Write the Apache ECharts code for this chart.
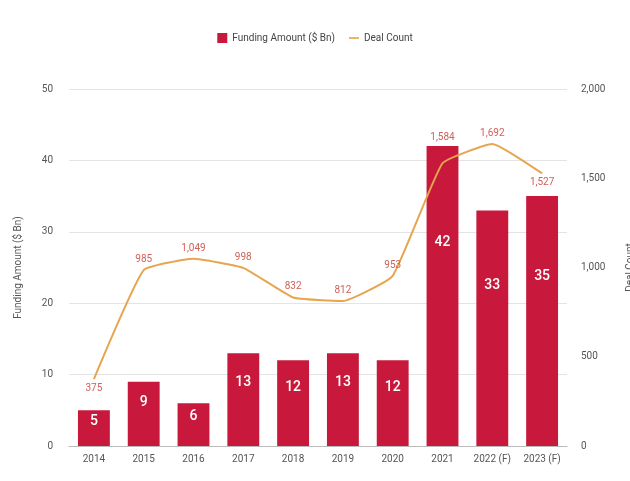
<!DOCTYPE html>
<html>
<head>
<meta charset="utf-8">
<script src="https://cdn.jsdelivr.net/npm/echarts@6/dist/echarts.min.js"></script>
<style>
  html, body { margin: 0; padding: 0; background: #fff; }
  #chart { width: 630px; height: 481px; }
</style>
</head>
<body>
<div id="chart"></div>
<script>
// Funding amount ($ Bn) and deal count by year; 2022 and 2023 are forecasts
const years = ['2014', '2015', '2016', '2017', '2018', '2019', '2020', '2021', '2022 (F)', '2023 (F)'];
const fundingAmount = [5, 9, 6, 13, 12, 13, 12, 42, 33, 35];
const dealCount = [375, 985, 1049, 998, 832, 812, 953, 1584, 1692, 1527];
const fundingTicks = [0, 10, 20, 30, 40, 50];
const dealTicks = [0, 500, 1000, 1500, 2000];

const BAR = '#c8193c';
const LINE = '#e6a54f';
const TEXT = '#555';
const FONT = 'Roboto, "Noto Sans", sans-serif';

const fmt = v => Number(v).toLocaleString('en-US');

// deal labels sit under the point at the two ends, above elsewhere
const dealData = dealCount.map((v, i) => {
  const below = i === 0 || i === dealCount.length - 1;
  const lifted = i === 7;
  return {
    value: v,
    label: { position: below ? 'bottom' : 'top', distance: lifted ? 20 : (below ? 4 : 5) }
  };
});

const chart = echarts.init(document.getElementById('chart'), null, { renderer: 'canvas' });
chart.setOption({
  animation: false,
  textStyle: { fontFamily: FONT },
  legend: {
    top: 28,
    left: 'center',
    itemGap: 14,
    itemWidth: 10,
    itemHeight: 10,
    textStyle: { color: '#444', fontSize: 10, fontFamily: FONT },
    data: [
      { name: 'Funding Amount ($ Bn)', icon: 'rect' },
      { name: 'Deal Count', icon: 'path://M0,4 L12,4 L12,6 L0,6 Z', itemStyle: { color: LINE, opacity: 1 } }
    ]
  },
  grid: { left: 69, right: 63, top: 89, bottom: 35, outerBoundsMode: 'none' },
  xAxis: {
    type: 'category',
    data: years,
    axisTick: { show: false },
    axisLine: { lineStyle: { color: '#bbb' } },
    axisLabel: { color: TEXT, fontSize: 10, margin: 8, fontFamily: FONT, interval: 0 }
  },
  yAxis: [
    {
      type: 'value',
      min: fundingTicks[0],
      max: fundingTicks[fundingTicks.length - 1],
      interval: fundingTicks[1] - fundingTicks[0],
      name: 'Funding Amount ($ Bn)',
      nameLocation: 'middle',
      nameGap: 46,
      nameMoveOverlap: false,
      nameTextStyle: { color: TEXT, fontSize: 10, fontFamily: FONT },
      axisLine: { show: false },
      axisTick: { show: false },
      axisLabel: { color: TEXT, fontSize: 10, margin: 16, fontFamily: FONT },
      splitLine: { lineStyle: { color: '#e4e4e4' } }
    },
    {
      type: 'value',
      min: dealTicks[0],
      max: dealTicks[dealTicks.length - 1],
      interval: dealTicks[1] - dealTicks[0],
      name: 'Deal Count',
      nameLocation: 'middle',
      nameGap: 58,
      nameMoveOverlap: false,
      nameTextStyle: { color: TEXT, fontSize: 10, fontFamily: FONT },
      axisLine: { show: false },
      axisTick: { show: false },
      axisLabel: { color: TEXT, fontSize: 10, margin: 14, fontFamily: FONT, formatter: fmt },
      splitLine: { show: false }
    }
  ],
  series: [
    {
      name: 'Funding Amount ($ Bn)',
      type: 'bar',
      yAxisIndex: 0,
      data: fundingAmount,
      barWidth: '64%',
      itemStyle: { color: BAR },
      label: {
        show: true,
        position: ['50%', '32%'],
        align: 'center',
        verticalAlign: 'middle',
        color: '#fff',
        fontSize: 14,
        fontWeight: 500,
        fontFamily: FONT
      }
    },
    {
      name: 'Deal Count',
      type: 'line',
      yAxisIndex: 1,
      data: dealData,
      smooth: 0.12,
      showSymbol: true,
      symbol: 'circle',
      symbolSize: 1,
      lineStyle: { color: LINE, width: 2 },
      itemStyle: { color: 'transparent' },
      z: 5,
      label: {
        show: true,
        color: '#d0605a',
        fontSize: 10,
        fontFamily: FONT,
        formatter: p => fmt(p.value)
      }
    }
  ]
});
</script>
</body>
</html>
